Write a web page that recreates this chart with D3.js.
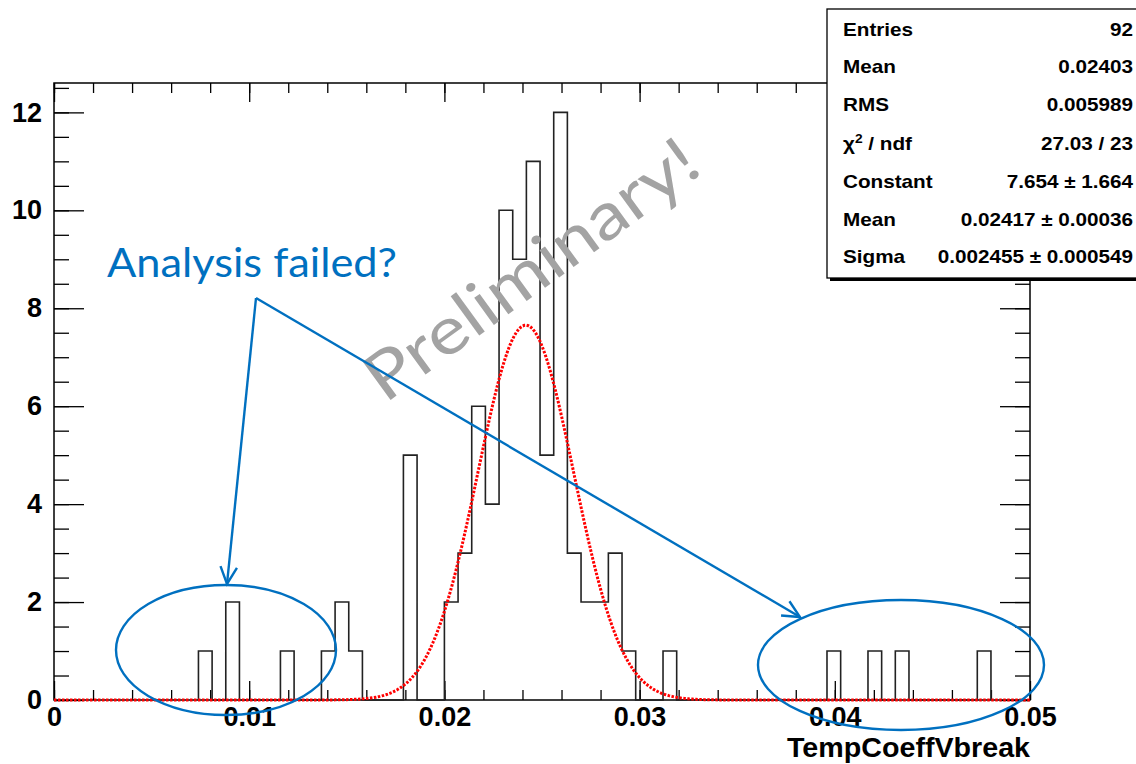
<!DOCTYPE html>
<html lang="en">
<head>
<meta charset="UTF-8">
<title>TempCoeffVbreak</title>
<script src="https://cdn.jsdelivr.net/npm/d3@7"></script>
<style>
*{margin:0; padding:0;}
body{background:#fff;}
.axis text{font-family:"Liberation Sans",Arial,sans-serif; font-weight:bold; font-size:27px; fill:#000;}
.axis line{stroke:#000; stroke-width:1.3;}
.stats text{font-family:"Liberation Sans",Arial,sans-serif; font-weight:bold; font-size:18px;}
.note{fill:none; stroke:#0070c0; stroke-width:2.4;}
</style>
</head>
<body>
<script>
// histogram: fixed bin width, counts
var binStart = 0.0074;
var binWidth = 0.0007;
var counts = [1,0,2,0,0,0,1,0,0,1,2,1,0,0,0,5,0,0,
	2,3,6,4,10,9,11,5,12,3,2,2,3,1,0,0,1,
	0,0,0,0,0,0,0,0,0,0,0,1,0,0,1,0,1,0,0,0,0,0,1];

// gaussian fit parameters (stats box)
var fitConst = 7.654, fitMean = 0.02417, fitSigma = 0.002455;

var xMajor = [0, 0.01, 0.02, 0.03, 0.04, 0.05];
var xMinor = d3.range(0, 26).map(function(i){ return i*0.002; });
var yMajor = [0, 2, 4, 6, 8, 10, 12];
var yMinor = d3.range(0, 26).map(function(i){ return i*0.5; });

var statLabels = ["Entries", "Mean", "RMS", "χ2 / ndf", "Constant", "Mean", "Sigma"];
var statValues = ["92", "0.02403", "0.005989", "27.03 / 23", "7.654 ± 1.664", "0.02417 ± 0.00036", "0.002455 ± 0.000549"];

var width = 1136, height = 764;
var L = 54, R = 1030, T = 83, B = 700;

var svg = d3.select("body").append("svg")
	.attr("width", width)
	.attr("height", height);

var x = d3.scaleLinear().domain([0, 0.05]).range([L, R]);
var y = d3.scaleLinear().domain([0, 12.6]).range([B, T]);

function tickAxis(axis, vals, size, tr, labels){
	var g = svg.append("g").attr("class", "axis").attr("transform", tr)
		.call(axis.tickValues(vals).tickSizeInner(size).tickSizeOuter(0)
			.tickFormat(labels ? labels : ""));
	g.select(".domain").remove();
	return g;
}
var fmtX = function(d){ return d === 0 ? "0" : d3.format(".2f")(d); };

// bottom / top x ticks
tickAxis(d3.axisBottom(x), xMinor, -10, "translate(0,"+B+")");
tickAxis(d3.axisBottom(x).tickPadding(7), xMajor, -19, "translate(0,"+B+")", fmtX);
tickAxis(d3.axisTop(x), xMinor, -10, "translate(0,"+T+")");
tickAxis(d3.axisTop(x), xMajor, -19, "translate(0,"+T+")");
// left / right y ticks
tickAxis(d3.axisLeft(y), yMinor, -15, "translate("+L+",0)");
tickAxis(d3.axisLeft(y).tickPadding(12), yMajor, -30, "translate("+L+",0)", d3.format("d"));
tickAxis(d3.axisRight(y), yMinor, -15, "translate("+R+",0)");
tickAxis(d3.axisRight(y), yMajor, -30, "translate("+R+",0)");

svg.append("rect")
	.attr("x", L).attr("y", T)
	.attr("width", R-L).attr("height", B-T)
	.attr("fill", "none").attr("stroke", "#000").attr("stroke-width", 1.5);

svg.append("text")
	.attr("x", R).attr("y", 757)
	.attr("text-anchor", "end")
	.attr("textLength", 243).attr("lengthAdjust", "spacingAndGlyphs")
	.style("font-family", "Liberation Sans, Arial, sans-serif")
	.style("font-weight", "bold").style("font-size", "27px")
	.text("TempCoeffVbreak");

// histogram outline
var pts = [[binStart, 0]];
counts.forEach(function(c, i){
	pts.push([binStart + i*binWidth, c]);
	pts.push([binStart + (i+1)*binWidth, c]);
});
pts.push([binStart + counts.length*binWidth, 0]);
svg.append("path")
	.attr("d", d3.line().x(function(d){ return x(d[0]); }).y(function(d){ return y(d[1]); })(pts))
	.attr("fill", "none").attr("stroke", "#222").attr("stroke-width", 1.6);

// fit curve
var fx = d3.range(0, 0.05001, 0.0001);
svg.append("path")
	.attr("d", d3.line()
		.x(function(d){ return x(d); })
		.y(function(d){ return y(fitConst*Math.exp(-0.5*Math.pow((d-fitMean)/fitSigma, 2))); })(fx))
	.attr("fill", "none").attr("stroke", "#ff0000")
	.attr("stroke-width", 3).attr("stroke-dasharray", "2.5,1.5");

// watermark
svg.append("text")
	.attr("transform", "translate(385,404) rotate(-36)")
	.attr("textLength", 395).attr("lengthAdjust", "spacingAndGlyphs")
	.style("font-family", "Lato, 'Open Sans', sans-serif")
	.style("font-size", "66px").style("fill", "#a3a3a3")
	.text("Preliminary!");

// stats box
var sb = svg.append("g").attr("class", "stats");
sb.append("rect").attr("x", 830).attr("y", 12).attr("width", 320).attr("height", 269).attr("fill", "#000");
sb.append("rect").attr("x", 827).attr("y", 9).attr("width", 320).attr("height", 269)
	.attr("fill", "#fff").attr("stroke", "#000").attr("stroke-width", 1.3);
var rowY = [36, 73, 111, 150, 188, 226, 263];
var sx = 1.15;
statLabels.forEach(function(s, i){
	var t = sb.append("text")
		.attr("transform", "translate(843," + rowY[i] + ") scale(" + sx + ",1)");
	if (s.indexOf("χ2") === 0) {
		t.append("tspan").text("χ");
		t.append("tspan").attr("dy", -7).style("font-size", "12px").text("2");
		t.append("tspan").attr("dy", 7).text(" / ndf");
	} else {
		t.text(s);
	}
	sb.append("text")
		.attr("transform", "translate(1133," + rowY[i] + ") scale(" + sx + ",1)")
		.attr("text-anchor", "end").text(statValues[i]);
});

// annotations
svg.append("text")
	.attr("x", 107).attr("y", 277)
	.attr("textLength", 290).attr("lengthAdjust", "spacingAndGlyphs")
	.style("font-family", "Lato, 'Open Sans', sans-serif")
	.style("font-size", "41px").style("fill", "#0070c0")
	.text("Analysis failed?");

function arrow(x0, y0, x1, y1){
	svg.append("line").attr("class", "note")
		.attr("x1", x0).attr("y1", y0).attr("x2", x1).attr("y2", y1);
	var a = Math.atan2(y1-y0, x1-x0), len = 19, sp = 0.45;
	svg.append("path").attr("class", "note")
		.attr("d", "M" + (x1 - len*Math.cos(a-sp)) + "," + (y1 - len*Math.sin(a-sp)) +
			"L" + x1 + "," + y1 +
			"L" + (x1 - len*Math.cos(a+sp)) + "," + (y1 - len*Math.sin(a+sp)));
}
arrow(256, 298, 227, 584);
arrow(256, 298, 800, 617);

svg.append("ellipse").attr("class", "note").attr("cx", 226).attr("cy", 650).attr("rx", 110).attr("ry", 65);
svg.append("ellipse").attr("class", "note").attr("cx", 901).attr("cy", 665).attr("rx", 143).attr("ry", 65);
</script>
</body>
</html>
